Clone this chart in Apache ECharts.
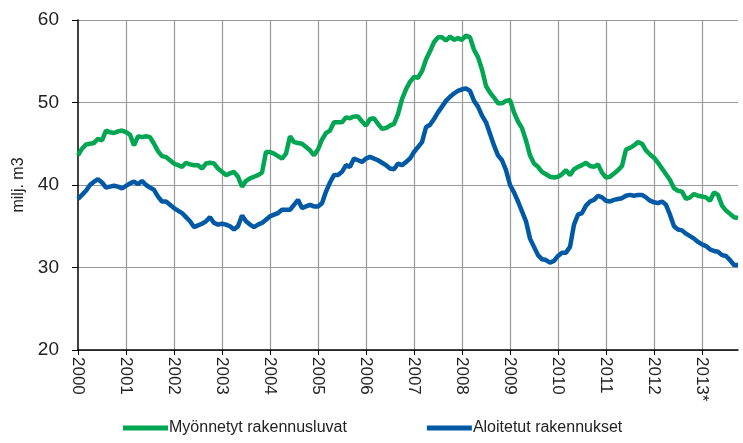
<!DOCTYPE html>
<html>
<head>
<meta charset="utf-8">
<script src="https://cdn.jsdelivr.net/npm/echarts@6/dist/echarts.min.js"></script>
<style>
  html, body { margin: 0; padding: 0; background: #fff; }
  #chart { width: 743px; height: 443px; }
</style>
</head>
<body>
<div id="chart"></div>
<script>
// vuodet (x-akselin tekstit), kuukausittaiset arvot tammikuu 2000 - lokakuu 2013
var years = ['2000', '2001', '2002', '2003', '2004', '2005', '2006', '2007', '2008', '2009', '2010', '2011', '2012', '2013*'];

var myonnetyt = [
  43.6, 44.4, 44.9, 45.0, 45.1, 45.6, 45.4, 46.6, 46.4, 46.3, 46.5, 46.6,
  46.4, 46.1, 44.8, 45.9, 45.8, 45.9, 45.8, 45.0, 44.1, 43.5, 43.4, 43.0,
  42.6, 42.4, 42.2, 42.7, 42.5, 42.4, 42.4, 42.0, 42.6, 42.7, 42.6, 42.0,
  41.6, 41.2, 41.4, 41.6, 41.0, 39.8, 40.5, 40.8, 41.0, 41.2, 41.5, 44.0,
  44.0, 43.8, 43.5, 43.2, 43.8, 45.9, 45.2, 45.1, 45.0, 44.6, 44.2, 43.6,
  44.3, 45.5, 46.3, 46.6, 47.6, 47.6, 47.6, 48.2, 48.1, 48.3, 48.3, 47.7,
  47.2, 48.0, 48.1, 47.4, 46.8, 46.9, 47.2, 47.4, 48.6, 50.4, 51.6, 52.5,
  53.1, 53.0, 53.8, 55.2, 56.2, 57.3, 57.9, 57.9, 57.5, 58.0, 57.6, 57.8,
  57.6, 58.1, 57.9, 56.4, 55.5, 54.0, 52.0, 51.2, 50.6, 49.9, 49.9, 50.2,
  50.3, 48.8, 47.7, 46.9, 45.4, 43.6, 42.6, 42.2, 41.6, 41.3, 41.0, 40.9,
  41.0, 41.3, 41.8, 41.2, 41.9, 42.2, 42.4, 42.7, 42.3, 42.2, 42.5, 41.5,
  40.9, 41.0, 41.4, 41.8, 42.3, 44.3, 44.5, 44.8, 45.2, 45.0, 44.2, 43.7,
  43.3, 42.7, 42.0, 41.3, 40.6, 39.6, 39.3, 39.2, 38.3, 38.5, 38.9, 38.7,
  38.6, 38.5, 38.1, 39.1, 38.8, 37.5, 36.9, 36.5, 36.1, 36.0
];

var aloitetut = [
  38.3, 38.8, 39.3, 40.0, 40.4, 40.7, 40.3, 39.7, 39.8, 39.9, 39.8, 39.6,
  39.9, 40.2, 40.4, 40.1, 40.5, 40.0, 39.7, 39.4, 38.6, 38.0, 38.0, 37.6,
  37.2, 36.9, 36.6, 36.1, 35.6, 34.9, 35.1, 35.3, 35.6, 36.1, 35.4, 35.2,
  35.3, 35.2, 35.0, 34.6, 35.0, 36.3, 35.6, 35.2, 34.9, 35.2, 35.4, 35.8,
  36.2, 36.4, 36.6, 37.0, 37.0, 37.0, 37.6, 38.2, 37.2, 37.4, 37.6, 37.4,
  37.4, 37.8, 39.2, 40.3, 41.2, 41.2, 41.6, 42.4, 42.2, 43.2, 43.0, 42.8,
  43.2, 43.4, 43.2, 43.0, 42.7, 42.4, 42.0, 41.9, 42.6, 42.4, 42.8, 43.2,
  44.0, 44.6, 45.2, 47.0, 47.3, 48.0, 48.8, 49.5, 50.2, 50.7, 51.1, 51.4,
  51.6, 51.7, 51.4, 50.2, 49.5, 48.4, 47.6, 46.2, 44.8, 43.6, 43.0, 41.8,
  40.0, 39.1, 38.0, 36.8, 35.6, 33.5, 32.5, 31.5, 31.0, 30.9, 30.6, 30.8,
  31.4, 31.8, 31.8, 32.5, 35.2, 36.4, 36.6, 37.5, 38.0, 38.2, 38.7, 38.5,
  38.1, 38.0, 38.2, 38.3, 38.4, 38.7, 38.8, 38.7, 38.8, 38.8, 38.5, 38.1,
  37.9, 37.8, 38.0, 37.6, 36.4, 35.0, 34.6, 34.5, 34.1, 33.8, 33.5, 33.1,
  32.8, 32.6, 32.2, 32.0, 31.9, 31.5, 31.4, 30.9, 30.3, 30.3
];

// kuukausikategoriat vuosien pohjalta
var months = [];
for (var i = 0; i < myonnetyt.length; i++) {
  months.push(years[Math.floor(i / 12)] + '-' + (i % 12 + 1));
}

var yearStart = function (index) { return index % 12 === 0; };
var font = "'Liberation Sans Narrow', 'Liberation Sans', Arial, sans-serif";

var chart = echarts.init(document.getElementById('chart'));
chart.setOption({
  animation: false,
  backgroundColor: '#fff',
  grid: {
    left: 78,
    right: 5,
    top: 20,
    bottom: 93,
    containLabel: false,
  },
  legend: {
    bottom: 2,
    left: 118,
    icon: 'rect',
    itemWidth: 45,
    itemHeight: 5,
    itemGap: 80,
    textStyle: {
      fontFamily: font,
      fontSize: 16,
      color: '#222',
      padding: [0, 0, 0, -4],
    },
    data: ['Myönnetyt rakennusluvat', 'Aloitetut rakennukset'],
  },
  xAxis: {
    type: 'category',
    boundaryGap: false,
    data: months,
    axisLine: { lineStyle: { color: '#000', width: 1.5 } },
    axisTick: {
      interval: function (index) { return yearStart(index); },
      length: 5,
      lineStyle: { color: '#000' },
    },
    axisLabel: {
      interval: function (index) { return yearStart(index); },
      formatter: function (value, index) { return years[Math.floor(index / 12)]; },
      rotate: -90,
      margin: 7,
      fontFamily: font,
      fontSize: 17,
      color: '#222',
    },
    splitLine: {
      show: true,
      interval: function (index) { return yearStart(index) && index > 0; },
      lineStyle: { color: '#999', width: 1.2 },
    },
  },
  yAxis: {
    type: 'value',
    min: 20,
    max: 60,
    interval: 10,
    name: 'milj. m3',
    nameLocation: 'middle',
    nameGap: 51,
    nameRotate: 90,
    nameTextStyle: { fontFamily: font, fontSize: 16, color: '#222' },
    axisLine: { show: true, lineStyle: { color: '#000', width: 1.5 } },
    axisTick: { show: true, length: 6, lineStyle: { color: '#000' } },
    axisLabel: {
      margin: 19,
      fontFamily: font,
      fontSize: 19,
      color: '#222',
    },
    splitLine: { lineStyle: { color: '#999', width: 1.2 } },
  },
  series: [
    {
      name: 'Myönnetyt rakennusluvat',
      type: 'line',
      data: myonnetyt,
      showSymbol: false,
      lineStyle: { color: '#00a651', width: 4.5 },
      itemStyle: { color: '#00a651' },
    },
    {
      name: 'Aloitetut rakennukset',
      type: 'line',
      data: aloitetut,
      showSymbol: false,
      lineStyle: { color: '#0059a5', width: 4.5 },
      itemStyle: { color: '#0059a5' },
    },
  ],
});
</script>
</body>
</html>
